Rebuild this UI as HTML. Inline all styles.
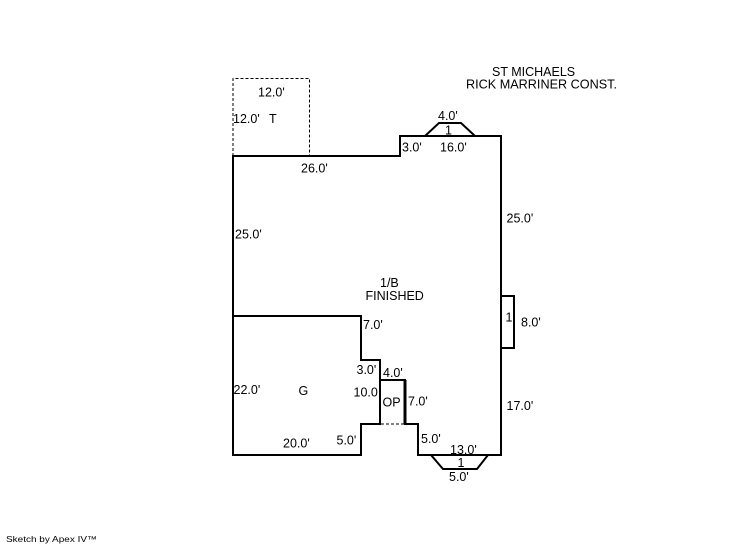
<!DOCTYPE html>
<html><head><meta charset="utf-8"><style>
html,body{margin:0;padding:0;background:#fff;}
svg{display:block;}
text{font-family:"Liberation Sans",Arial,sans-serif;font-size:12.5px;fill:#000;}
</style></head><body>
<svg width="746" height="547" viewBox="0 0 746 547" xmlns="http://www.w3.org/2000/svg">
<rect x="0" y="0" width="746" height="547" fill="#fff"/>
<!-- dashed T box -->
<path d="M233,156 V78.5 H309.5 V156" fill="none" stroke="#000" stroke-width="1" stroke-dasharray="3,2"/>
<!-- main outline -->
<path d="M233,156 H400 V136 H501 V455 H418 V424 H405 V380 H380 V360 H361 V316 H233 Z" fill="none" stroke="#000" stroke-width="2" stroke-linejoin="miter"/>
<!-- garage -->
<path d="M233,316 V455 H361 V424 H380 V380" fill="none" stroke="#000" stroke-width="2"/>
<path d="M405,380 V424" fill="none" stroke="#000" stroke-width="3"/>
<!-- OP dashed bottom -->
<path d="M381,424 H405" fill="none" stroke="#000" stroke-width="1" stroke-dasharray="3,2"/>
<!-- right bump -->
<path d="M501,296 H514 V348 H501" fill="none" stroke="#000" stroke-width="2"/>
<!-- top bay -->
<path d="M425,136 L439,123 H461 L475,136" fill="none" stroke="#000" stroke-width="2"/>
<!-- bottom bay -->
<path d="M431,455 L443,469 H477 L488,455" fill="none" stroke="#000" stroke-width="2"/>

<text x="492" y="76">ST MICHAELS</text>
<text x="466" y="88.5" textLength="151" lengthAdjust="spacingAndGlyphs">RICK MARRINER CONST.</text>

<text x="258" y="96.5">12.0'</text>
<text x="233" y="123">12.0'</text>
<text x="269" y="123">T</text>
<text x="438" y="120">4.0'</text>
<text x="445" y="134.5">1</text>
<text x="402" y="151.5">3.0'</text>
<text x="440" y="151.5">16.0'</text>
<text x="301" y="172.5">26.0'</text>
<text x="506.5" y="222.5">25.0'</text>
<text x="235" y="238.5">25.0'</text>
<text x="380" y="287">1/B</text>
<text x="365.5" y="300">FINISHED</text>
<text x="505.5" y="321.5">1</text>
<text x="521" y="326.5">8.0'</text>
<text x="363" y="329">7.0'</text>
<text x="356.5" y="374">3.0'</text>
<text x="383" y="377">4.0'</text>
<text x="233.5" y="394">22.0'</text>
<text x="298.5" y="395">G</text>
<text x="353.5" y="396.5">10.0</text>
<text x="382.5" y="406.5">OP</text>
<text x="408" y="405.5">7.0'</text>
<text x="506.5" y="410">17.0'</text>
<text x="283" y="447.5">20.0'</text>
<text x="336.5" y="444.5">5.0'</text>
<text x="421" y="443">5.0'</text>
<text x="450" y="454">13.0'</text>
<text x="457.5" y="467">1</text>
<text x="449" y="481">5.0'</text>

<text x="6" y="542" style="font-size:8.5px" textLength="91" lengthAdjust="spacingAndGlyphs">Sketch by Apex IV™</text>
</svg>
</body></html>
